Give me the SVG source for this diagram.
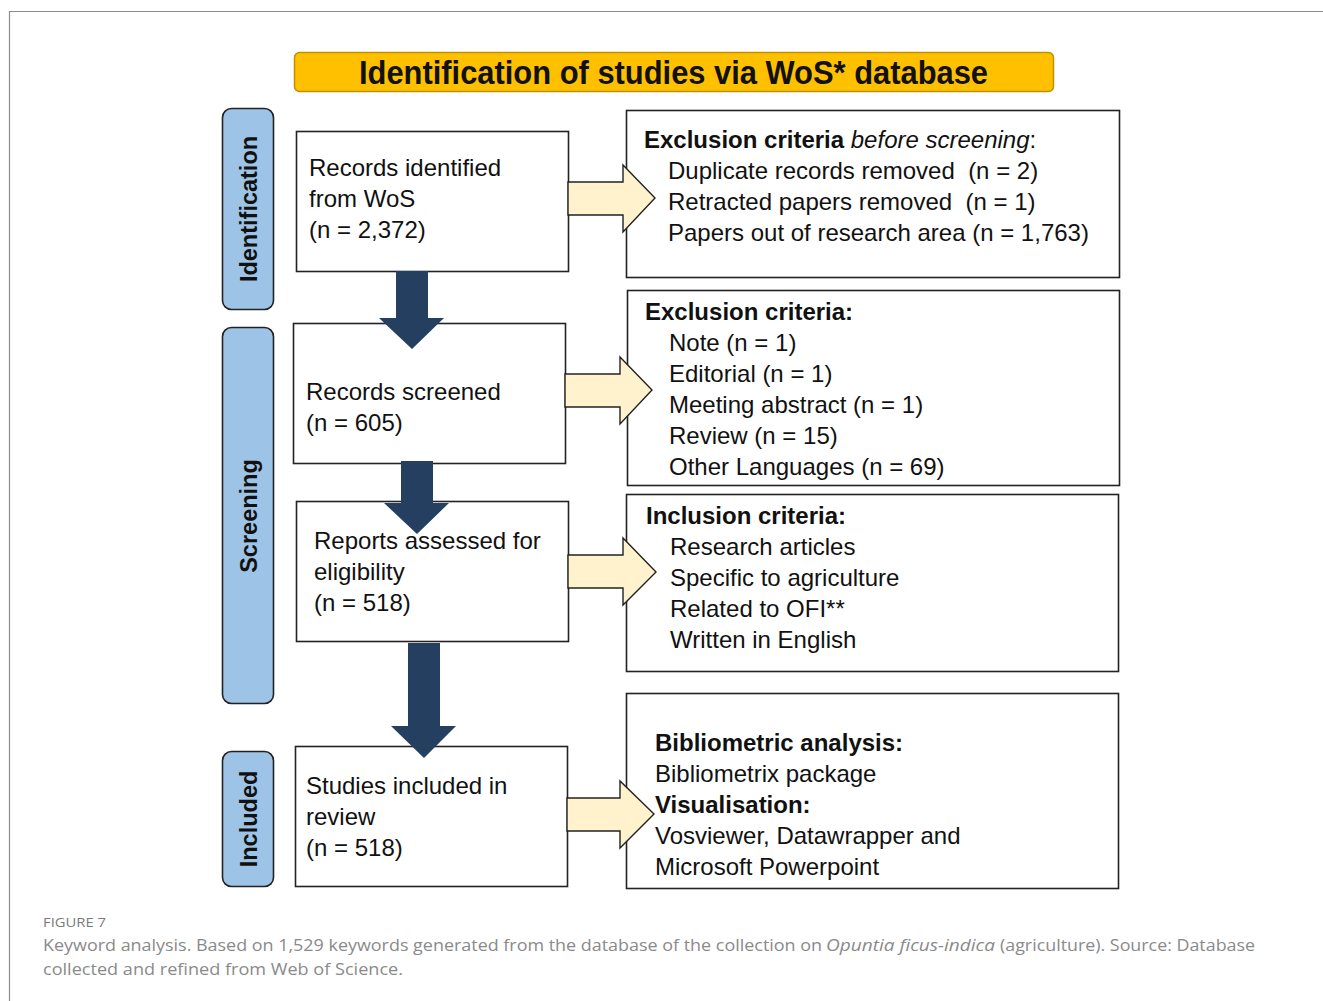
<svg xmlns="http://www.w3.org/2000/svg" width="1323" height="1001" viewBox="0 0 1323 1001">
<style>
.box{fill:#fff;stroke:#222;stroke-width:1.6}
.pill{fill:#9DC3E6;stroke:#222;stroke-width:1.6}
.t{font-family:"Liberation Sans",Arial,sans-serif;font-size:24px;fill:#111}
.b{font-weight:bold}
.side{font-family:"Liberation Sans",Arial,sans-serif;font-size:23.5px;font-weight:bold;fill:#111;text-anchor:middle}
.down{fill:#243F60}
.right{fill:#FFF2CC;stroke:#222;stroke-width:1.4;stroke-linejoin:miter}
.cap{font-family:"Open Sans","Liberation Sans",sans-serif;font-size:17px;fill:#8a8a8a}
</style>
<rect width="1323" height="1001" fill="#fff"/>
<g id="frame" fill="none" stroke="#8c8c8c" stroke-width="1.2">
<line x1="9" y1="11.5" x2="1323" y2="11.5"/>
<line x1="9.5" y1="11" x2="9.5" y2="1001"/>
</g>
<g id="title">
<rect x="294.5" y="52.5" width="759" height="39" rx="5" fill="#FFC000" stroke="#BF9000" stroke-width="1.5"/>
<text x="673.5" y="84" font-family="Liberation Sans,Arial,sans-serif" font-size="33" font-weight="bold" fill="#111" text-anchor="middle" textLength="629" lengthAdjust="spacingAndGlyphs">Identification of studies via WoS* database</text>
</g>
<g id="stage-identification">
<rect class="pill" x="222.5" y="108.5" width="51" height="201" rx="9"/>
<text class="side" transform="translate(257,209) rotate(-90)">Identification</text>
</g>
<g id="stage-screening">
<rect class="pill" x="222.5" y="327.5" width="51" height="376" rx="9"/>
<text class="side" transform="translate(257,516) rotate(-90)">Screening</text>
</g>
<g id="stage-included">
<rect class="pill" x="222.5" y="751.5" width="51" height="135" rx="9"/>
<text class="side" transform="translate(257,819) rotate(-90)">Included</text>
</g>
<g id="records-identified">
<rect class="box" x="296.5" y="131.5" width="272" height="140"/>
<text class="t" x="309" y="176">Records identified</text>
<text class="t" x="309" y="207">from WoS</text>
<text class="t" x="309" y="238">(n = 2,372)</text>
</g>
<g id="records-screened">
<rect class="box" x="293.5" y="323.5" width="272" height="140"/>
<text class="t" x="306" y="400">Records screened</text>
<text class="t" x="306" y="431">(n = 605)</text>
</g>
<g id="reports-assessed">
<rect class="box" x="296.5" y="501.5" width="272" height="140"/>
<text class="t" x="314" y="549">Reports assessed for</text>
<text class="t" x="314" y="580">eligibility</text>
<text class="t" x="314" y="611">(n = 518)</text>
</g>
<g id="studies-included">
<rect class="box" x="295.5" y="746.5" width="272" height="140"/>
<text class="t" x="306" y="794">Studies included in</text>
<text class="t" x="306" y="825">review</text>
<text class="t" x="306" y="856">(n = 518)</text>
</g>
<g id="exclusion-before">
<rect class="box" x="626.5" y="110.5" width="493" height="167"/>
<text class="t" x="644" y="148"><tspan class="b">Exclusion criteria</tspan> <tspan font-style="italic">before screening</tspan>:</text>
<text class="t" x="668" y="179" xml:space="preserve">Duplicate records removed  (n = 2)</text>
<text class="t" x="668" y="210" xml:space="preserve">Retracted papers removed  (n = 1)</text>
<text class="t" x="668" y="241">Papers out of research area (n = 1,763)</text>
</g>
<g id="exclusion-criteria">
<rect class="box" x="627.5" y="290.5" width="492" height="195"/>
<text class="t b" x="645" y="320">Exclusion criteria:</text>
<text class="t" x="669" y="351">Note (n = 1)</text>
<text class="t" x="669" y="382">Editorial (n = 1)</text>
<text class="t" x="669" y="413">Meeting abstract (n = 1)</text>
<text class="t" x="669" y="444">Review (n = 15)</text>
<text class="t" x="669" y="475">Other Languages (n = 69)</text>
</g>
<g id="inclusion-criteria">
<rect class="box" x="626.5" y="494.5" width="492" height="177"/>
<text class="t b" x="646" y="524">Inclusion criteria:</text>
<text class="t" x="670" y="555">Research articles</text>
<text class="t" x="670" y="586">Specific to agriculture</text>
<text class="t" x="670" y="617">Related to OFI**</text>
<text class="t" x="670" y="648">Written in English</text>
</g>
<g id="analysis">
<rect class="box" x="626.5" y="693.5" width="492" height="195"/>
<text class="t b" x="655" y="751">Bibliometric analysis:</text>
<text class="t" x="655" y="782">Bibliometrix package</text>
<text class="t b" x="655" y="813">Visualisation:</text>
<text class="t" x="655" y="844">Vosviewer, Datawrapper and</text>
<text class="t" x="655" y="875">Microsoft Powerpoint</text>
</g>
<g id="connectors">
<polygon class="down" points="396,271 428,271 428,318 444,318 412,349 379,318 396,318"/>
<polygon class="down" points="401,461 433,461 433,503 449,503 417,534 384,503 401,503"/>
<polygon class="down" points="408,643 440,643 440,726 456,726 424,758 391,726 408,726"/>
<polygon class="right" points="568,182 623,182 623,165 655,198 623,232 623,215 568,215"/>
<polygon class="right" points="565,374 620,374 620,357 652,390 620,424 620,407 565,407"/>
<polygon class="right" points="568,555 623,555 623,538 656,572 623,605 623,588 568,588"/>
<polygon class="right" points="567,798 620,798 620,781 654,814 620,848 620,831 567,831"/>
</g>
<g id="caption">
<text x="43" y="927" font-family="Open Sans,Liberation Sans,sans-serif" font-size="13" fill="#7a7a7a" textLength="63" lengthAdjust="spacingAndGlyphs">FIGURE 7</text>
<text class="cap" x="43" y="951" textLength="779" lengthAdjust="spacingAndGlyphs">Keyword analysis. Based on 1,529 keywords generated from the database of the collection on</text>
<text class="cap" x="826" y="951" font-style="italic" textLength="169" lengthAdjust="spacingAndGlyphs">Opuntia ficus-indica</text>
<text class="cap" x="1000" y="951" textLength="255" lengthAdjust="spacingAndGlyphs">(agriculture). Source: Database</text>
<text class="cap" x="43" y="975" textLength="360" lengthAdjust="spacingAndGlyphs">collected and refined from Web of Science.</text>
</g>
</svg>
